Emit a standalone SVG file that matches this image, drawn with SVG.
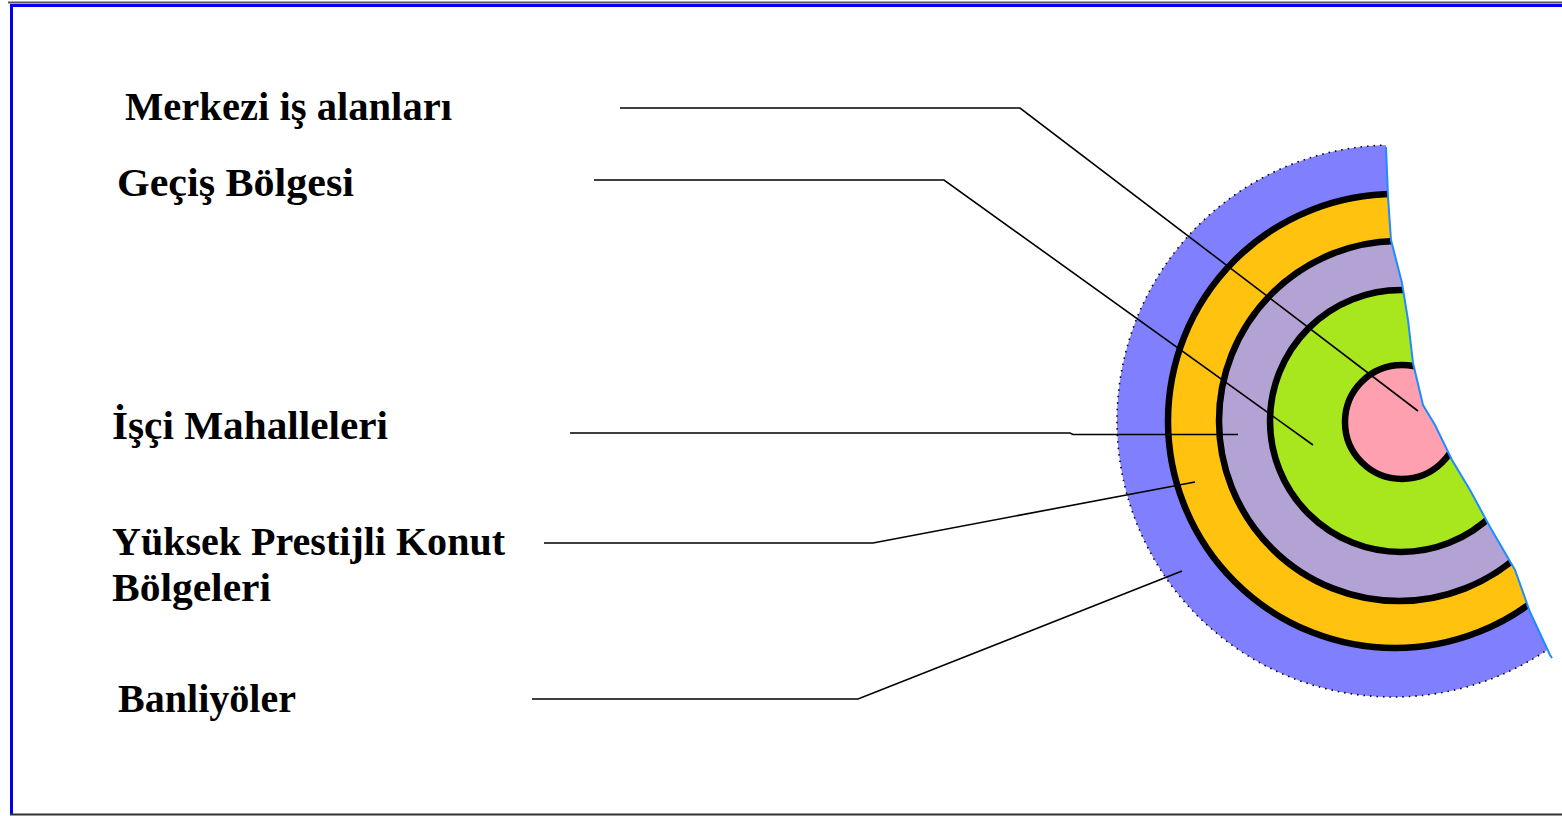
<svg xmlns="http://www.w3.org/2000/svg" width="1562" height="816" viewBox="0 0 1562 816">
<style>
.lbl{font-family:"Liberation Serif","Times New Roman",serif;font-weight:bold;font-size:40px;fill:#000}
.con{fill:none;stroke:#000;stroke-width:1.6}
.ring{stroke:#000;stroke-width:6.5}
</style>
<defs>
<clipPath id="cut">
<polygon points="1000,100 1386,100 1386,147 1388,197 1391,240 1402,283 1408,320 1413,363 1423,405 1435,425 1452,460 1470,490 1490,527 1515,570 1530,612 1550,655 1552,760 1000,760"/>
</clipPath>
</defs>
<rect x="0" y="0" width="1562" height="816" fill="#fff"/>
<g id="frame">
<line x1="8" y1="2.5" x2="1562" y2="2.5" stroke="#555" stroke-width="2"/>
<path d="M11.5,814 V5.5 H1562" fill="none" stroke="#0000ee" stroke-width="3"/>
<line x1="10" y1="814.5" x2="1562" y2="814.5" stroke="#333" stroke-width="2"/>
</g>
<g id="zones" clip-path="url(#cut)">
<g id="banliyoler"><circle cx="1393" cy="421" r="276" fill="#8080ff" stroke="#000" stroke-width="1.6" stroke-dasharray="1.5 5"/></g>
<g id="yuksek-prestijli"><circle class="ring" cx="1395" cy="421" r="227" fill="#ffc20e"/></g>
<g id="isci-mahalleleri"><circle class="ring" cx="1399" cy="421" r="180" fill="#b3a3d4"/></g>
<g id="gecis-bolgesi"><circle class="ring" cx="1401" cy="421" r="131" fill="#a8e61e"/></g>
<g id="merkezi-is"><circle class="ring" cx="1402" cy="422" r="57" fill="#ffa0b0"/></g>
</g>
<polyline points="1386,147 1388,197 1391,240 1402,283 1408,320 1413,363 1423,405 1435,425 1452,460 1470,490 1490,527 1515,570 1530,612 1550,655 1552,658" fill="none" stroke="#1e8cff" stroke-width="2"/>
<g id="connectors">
<polyline class="con" points="620,108 1020,108 1418,411"/>
<polyline class="con" points="594,180 944,180 1313,445"/>
<polyline class="con" points="570,433 1070,433 1073,434.5 1238,434.5"/>
<polyline class="con" points="544,543 873,543 1195,482"/>
<polyline class="con" points="532,699 858,699 1182,571"/>
</g>
<g id="labels">
<text class="lbl" x="125" y="120" textLength="327" lengthAdjust="spacingAndGlyphs">Merkezi iş alanları</text>
<text class="lbl" x="117" y="196" textLength="237" lengthAdjust="spacingAndGlyphs">Geçiş Bölgesi</text>
<text class="lbl" x="112" y="439" textLength="276" lengthAdjust="spacingAndGlyphs">İşçi Mahalleleri</text>
<text class="lbl" x="112" y="555" textLength="393" lengthAdjust="spacingAndGlyphs">Yüksek Prestijli Konut</text>
<text class="lbl" x="112" y="601" textLength="159" lengthAdjust="spacingAndGlyphs">Bölgeleri</text>
<text class="lbl" x="118" y="712" textLength="178" lengthAdjust="spacingAndGlyphs">Banliyöler</text>
</g>
</svg>
